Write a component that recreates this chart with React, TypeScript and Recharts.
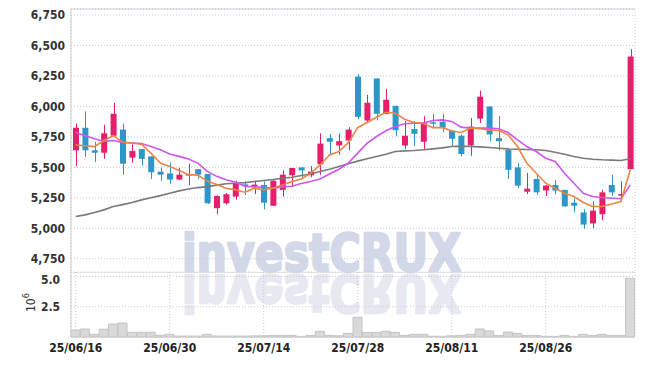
import { ComposedChart, Bar, Line, XAxis, YAxis, CartesianGrid, ReferenceLine } from "recharts";

const dates = [
  "25/06/16", "25/06/17", "25/06/18", "25/06/19", "25/06/20", "25/06/23", "25/06/24", "25/06/25", "25/06/26", "25/06/27",
  "25/06/30", "25/07/01", "25/07/02", "25/07/03", "25/07/04", "25/07/07", "25/07/08", "25/07/09", "25/07/10", "25/07/11",
  "25/07/14", "25/07/15", "25/07/16", "25/07/17", "25/07/18", "25/07/21", "25/07/22", "25/07/23", "25/07/24", "25/07/25",
  "25/07/28", "25/07/29", "25/07/30", "25/07/31", "25/08/01", "25/08/04", "25/08/05", "25/08/06", "25/08/07", "25/08/08",
  "25/08/11", "25/08/12", "25/08/13", "25/08/14", "25/08/18", "25/08/19", "25/08/20", "25/08/21", "25/08/22", "25/08/25",
  "25/08/26", "25/08/27", "25/08/28", "25/08/29", "25/09/01", "25/09/02", "25/09/03", "25/09/04", "25/09/05", "25/09/08",
];

const open = [
  5640, 5825, 5640, 5620, 5760, 5810, 5580, 5650, 5590, 5465,
  5450, 5400, 5440, 5485, 5445, 5165, 5205, 5260, 5360, 5350,
  5355, 5185, 5315, 5435, 5500, 5435, 5525, 5740, 5680, 5720,
  6245, 5885, 6230, 5940, 6005, 5680, 5815, 5710, 5870, 5875,
  5800, 5760, 5680, 5900, 6000, 5740, 5645, 5500, 5300, 5405,
  5310, 5355, 5315, 5210, 5130, 5040, 5115, 5355, 5275, 5485,
];
const high = [
  5860, 5960, 5710, 5850, 6030, 5860, 5690, 5650, 5590, 5500,
  5540, 5495, 5530, 5485, 5445, 5270, 5290, 5390, 5385, 5390,
  5385, 5395, 5475, 5495, 5500, 5510, 5780, 5775, 5775, 5830,
  6265, 6095, 6230, 6145, 6005, 5880, 5880, 5920, 5940, 5940,
  5800, 5770, 5905, 6130, 6000, 5920, 5645, 5535, 5455, 5440,
  5355, 5395, 5315, 5245, 5155, 5220, 5315, 5440, 5385, 6470,
];
const low = [
  5510, 5585, 5545, 5570, 5750, 5440, 5540, 5515, 5405, 5390,
  5365, 5395, 5355, 5405, 5200, 5115, 5195, 5235, 5275, 5280,
  5155, 5185, 5260, 5340, 5410, 5420, 5440, 5600, 5605, 5640,
  5895, 5870, 5885, 5935, 5755, 5650, 5675, 5650, 5820, 5790,
  5670, 5590, 5595, 5865, 5715, 5640, 5405, 5330, 5280, 5275,
  5265, 5280, 5175, 5130, 4995, 5000, 5065, 5265, 5250, 5485,
];
const close = [
  5825, 5640, 5620, 5780, 5940, 5530, 5635, 5570, 5460, 5440,
  5400, 5440, 5445, 5440, 5205, 5265, 5280, 5365, 5345, 5358,
  5210, 5390, 5440, 5495, 5475, 5465, 5695, 5710, 5715, 5810,
  5915, 6030, 5940, 6055, 5805, 5760, 5775, 5870, 5860, 5825,
  5735, 5610, 5835, 6080, 5770, 5715, 5480, 5350, 5325, 5295,
  5350, 5310, 5180, 5185, 5030, 5145, 5295, 5295, 5280, 6410,
];

// moving averages
const ma5 = [
  5683, 5678, 5670, 5720, 5760, 5706, 5700, 5690, 5617, 5535,
  5508, 5475, 5440, 5436, 5387, 5360, 5329, 5315, 5296, 5329,
  5315, 5329, 5356, 5384, 5405, 5452, 5520, 5602, 5630, 5703,
  5826, 5868, 5911, 5952, 5944, 5895, 5868, 5860, 5826, 5826,
  5800, 5786, 5822, 5817, 5808, 5803, 5767, 5671, 5534, 5452,
  5370, 5329, 5288, 5261, 5212, 5179, 5179, 5200, 5220, 5480,
];
const ma10 = [
  5786, 5760, 5735, 5712, 5720, 5705, 5700, 5695, 5672, 5644,
  5609, 5590, 5568, 5535, 5467, 5426, 5399, 5378, 5345, 5340,
  5337, 5329, 5340, 5345, 5367, 5384, 5405, 5446, 5485, 5535,
  5617, 5699, 5753, 5800, 5836, 5858, 5863, 5863, 5885, 5890,
  5877, 5830, 5822, 5822, 5822, 5817, 5786, 5726, 5671, 5630,
  5575, 5548, 5452, 5370, 5288, 5261, 5253, 5247, 5242, 5356,
];
const ma60 = [
  5096, 5110, 5129, 5151, 5178, 5194, 5211, 5233, 5250, 5268,
  5288, 5307, 5323, 5334, 5342, 5354, 5365, 5370, 5375, 5384,
  5392, 5400, 5411, 5419, 5433, 5446, 5466, 5485, 5507, 5529,
  5551, 5570, 5589, 5608, 5630, 5635, 5638, 5644, 5652, 5660,
  5671, 5674, 5671, 5668, 5663, 5657, 5652, 5649, 5646, 5644,
  5638, 5624, 5608, 5589, 5575, 5567, 5562, 5559, 5556, 5570,
];

// volume, millions of shares
const volume = [
  0.58, 0.66, 0.22, 0.64, 1.07, 1.16, 0.39, 0.39, 0.39, 0.14,
  0.22, 0.08, 0.08, 0.08, 0.22, 0.08, 0.08, 0.08, 0.07, 0.09,
  0.1, 0.13, 0.13, 0.13, 0.05, 0.13, 0.47, 0.13, 0.1, 0.3,
  1.63, 0.38, 0.38, 0.47, 0.38, 0.13, 0.22, 0.22, 0.06, 0.06,
  0.1, 0.13, 0.22, 0.66, 0.5, 0.13, 0.41, 0.3, 0.13, 0.13,
  0.05, 0.05, 0.13, 0.05, 0.22, 0.13, 0.22, 0.13, 0.13, 4.85,
];

const dateTicks = ["25/06/16", "25/06/30", "25/07/14", "25/07/28", "25/08/11", "25/08/26"];
const priceTicks = [4750, 5000, 5250, 5500, 5750, 6000, 6250, 6500, 6750];
const volumeTicks = [2.5, 5.0];

const PRICE_DOMAIN: [number, number] = [4641, 6800];
const VOL_MAX = 5.37;

const UP = "#e51f6b";
const DOWN = "#2e96c9";
const GRID = "#c4c8dc";
const BORDER = "#cfcfcf";
const FONT = '"DejaVu Sans Condensed", "DejaVu Sans", sans-serif';
const MARK_FONT = '"DejaVu Sans", sans-serif';

const data = dates.map((d, i) => ({
  date: d,
  open: open[i],
  high: high[i],
  low: low[i],
  close: close[i],
  ma5: ma5[i],
  ma10: ma10[i],
  ma60: ma60[i],
  vol: volume[i],
}));

function Candle(props: any) {
  const { x, y, width, height, payload } = props;
  if (x == null || y == null) return null;
  const top = Math.min(y, y + height);
  const h = Math.abs(height);
  const range = payload.high - payload.low;
  const ratio = range > 0 ? h / range : 0;
  const up = payload.close >= payload.open;
  const color = up ? UP : DOWN;
  const bodyTop = top + (payload.high - Math.max(payload.open, payload.close)) * ratio;
  const bodyH = Math.max(Math.abs(payload.close - payload.open) * ratio, 1.5);
  const cx = Math.round(x + width / 2) + 0.5;
  return (
    <g>
      <line x1={cx} x2={cx} y1={top} y2={top + h} stroke={color} strokeWidth={1} />
      <rect x={x} y={bodyTop} width={width} height={bodyH} fill={color} />
    </g>
  );
}

const tickStyle = { fontFamily: FONT, fontSize: 12, fontWeight: 700, fill: "#333" };

export default function App() {
  return (
    <div style={{ position: "absolute", left: 0, top: 0, width: 645, height: 366, background: "#fff" }}>
      <svg width={645} height={366} style={{ position: "absolute", left: 0, top: 0 }}>
        <text
          x={182}
          y={271}
          textLength={279}
          lengthAdjust="spacingAndGlyphs"
          fontFamily={MARK_FONT}
          fontWeight={700}
          fontSize={52}
          fill="#d2d8e8"
          stroke="#d2d8e8"
          strokeWidth={2.5}
          strokeLinejoin="round"
        >
          investCRUX
        </text>
        <g transform="translate(0 546) scale(1 -1)">
          <text
            x={182}
            y={271}
            textLength={279}
            lengthAdjust="spacingAndGlyphs"
            fontFamily={MARK_FONT}
            fontWeight={700}
            fontSize={52}
            fill="#e7e8f0"
            stroke="#e7e8f0"
            strokeWidth={2.5}
            strokeLinejoin="round"
          >
            investCRUX
          </text>
        </g>
        <text x={35} y={312} transform="rotate(-90 35 312)" fontFamily={FONT} fontSize={12} fill="#333">
          10
          <tspan dy={-6} fontSize={9}>
            6
          </tspan>
        </text>
      </svg>

      <div style={{ position: "absolute", left: 0, top: 0 }}>
        <ComposedChart width={645} height={272} data={data} margin={{ top: 9, right: 10, bottom: 0, left: 0 }}>
          <CartesianGrid stroke={GRID} strokeDasharray="1 2" />
          <XAxis dataKey="date" ticks={dateTicks} interval={0} height={0} tick={false} axisLine={false} tickLine={false} />
          <YAxis
            domain={PRICE_DOMAIN}
            ticks={priceTicks}
            width={71}
            tickLine={false}
            tickMargin={0}
            axisLine={{ stroke: BORDER }}
            tickFormatter={(v: number) => v.toLocaleString("en-US")}
            tick={tickStyle}
          />
          <YAxis yAxisId="r" orientation="right" width={0} tick={false} tickLine={false} axisLine={{ stroke: BORDER }} />
          <ReferenceLine y={PRICE_DOMAIN[1]} stroke={BORDER} />
          <Bar
            dataKey={(d: any) => [d.low, d.high]}
            barSize={6}
            shape={<Candle />}
            isAnimationActive={false}
          />
          <Line dataKey="ma60" stroke="#7a7a7a" strokeWidth={1.6} dot={false} isAnimationActive={false} />
          <Line dataKey="ma10" stroke="#cc58ea" strokeWidth={1.6} dot={false} isAnimationActive={false} />
          <Line dataKey="ma5" stroke="#ee8446" strokeWidth={1.6} dot={false} isAnimationActive={false} />
        </ComposedChart>
      </div>

      <div style={{ position: "absolute", left: 0, top: 272 }}>
        <ComposedChart width={645} height={94} data={data} margin={{ top: 0, right: 10, bottom: 0, left: 0 }} barCategoryGap={0}>
          <CartesianGrid stroke={GRID} strokeDasharray="1 2" />
          <XAxis
            dataKey="date"
            ticks={dateTicks}
            interval={0}
            height={29}
            tickLine={false}
            tickMargin={0}
            axisLine={{ stroke: BORDER }}
            tick={{ ...tickStyle, fill: "#222" }}
          />
          <YAxis
            domain={[0, VOL_MAX]}
            ticks={volumeTicks}
            width={71}
            tickLine={false}
            tickMargin={5}
            axisLine={{ stroke: BORDER }}
            tickFormatter={(v: number) => v.toFixed(1)}
            tick={tickStyle}
          />
          <YAxis yAxisId="r" orientation="right" width={0} tick={false} tickLine={false} axisLine={{ stroke: BORDER }} />
          <ReferenceLine y={VOL_MAX} stroke={BORDER} />
          <Bar dataKey="vol" fill="#d9d9d9" stroke="#c4c4c4" strokeWidth={1} isAnimationActive={false} />
        </ComposedChart>
      </div>
    </div>
  );
}
